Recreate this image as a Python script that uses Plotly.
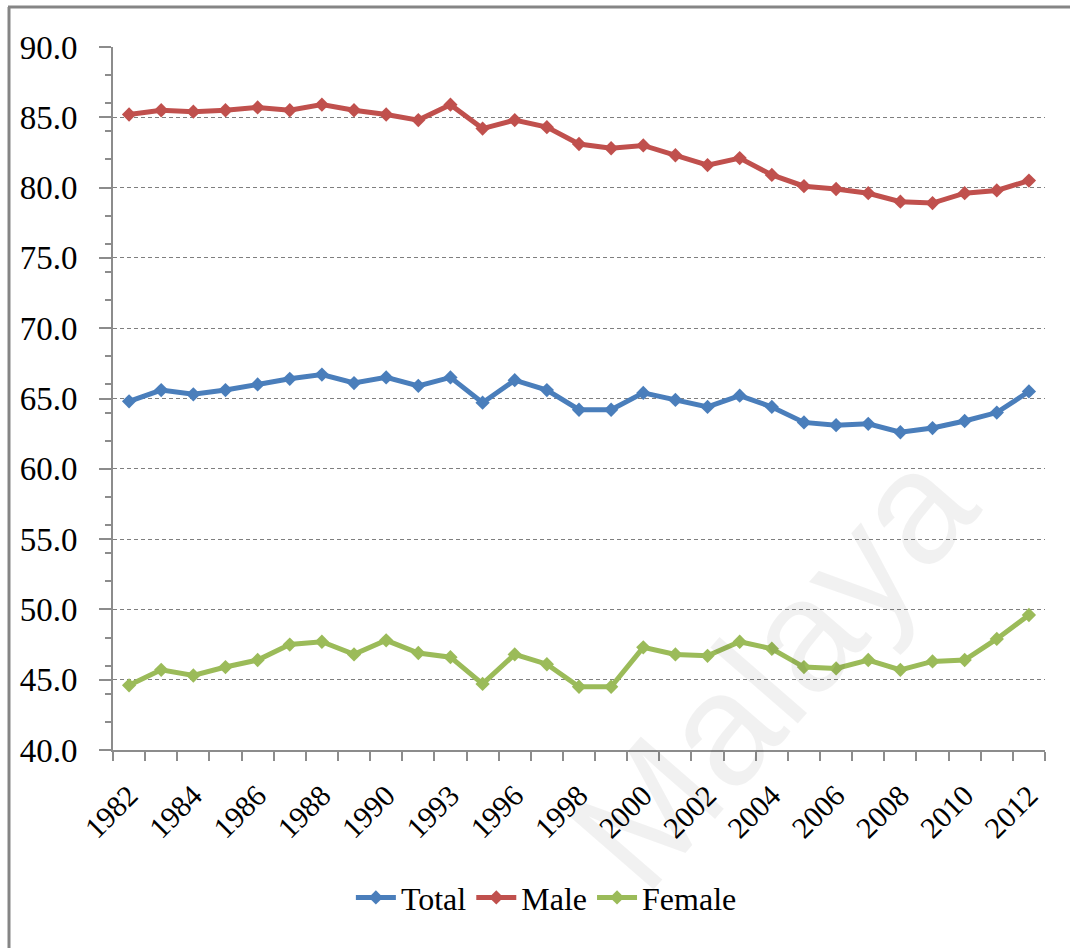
import plotly.graph_objects as go

# Survey years (1991 and 1994 are not in the series)
years = [1982, 1983, 1984, 1985, 1986, 1987, 1988, 1989, 1990, 1992, 1993,
         1995, 1996, 1997, 1998, 1999, 2000, 2001, 2002, 2003, 2004, 2005,
         2006, 2007, 2008, 2009, 2010, 2011, 2012]

total = [64.8, 65.6, 65.3, 65.6, 66.0, 66.4, 66.7, 66.1, 66.5, 65.9, 66.5,
         64.7, 66.3, 65.6, 64.2, 64.2, 65.4, 64.9, 64.4, 65.2, 64.4, 63.3,
         63.1, 63.2, 62.6, 62.9, 63.4, 64.0, 65.5]

male = [85.2, 85.5, 85.4, 85.5, 85.7, 85.5, 85.9, 85.5, 85.2, 84.8, 85.9,
        84.2, 84.8, 84.3, 83.1, 82.8, 83.0, 82.3, 81.6, 82.1, 80.9, 80.1,
        79.9, 79.6, 79.0, 78.9, 79.6, 79.8, 80.5]

female = [44.6, 45.7, 45.3, 45.9, 46.4, 47.5, 47.7, 46.8, 47.8, 46.9, 46.6,
          44.7, 46.8, 46.1, 44.5, 44.5, 47.3, 46.8, 46.7, 47.7, 47.2, 45.9,
          45.8, 46.4, 45.7, 46.3, 46.4, 47.9, 49.6]

series_names = ["Total", "Male", "Female"]
colors = ["#4a7ebb", "#c0504d", "#9bbb59"]

W, H = 1070, 948
ML, MR, MT, MB = 113, 25, 47, 198

idx = list(range(len(years)))

fig = go.Figure()
for name, vals, col in zip(series_names, [total, male, female], colors):
    fig.add_trace(go.Scatter(
        x=idx, y=vals, name=name, mode="lines+markers",
        line=dict(color=col, width=5),
        marker=dict(symbol="diamond", size=11, color=col),
    ))

axis_col = "#8c8c8c"
serif = "Liberation Serif, Times New Roman, serif"

fig.update_layout(
    width=W, height=H,
    margin=dict(l=ML, r=MR, t=MT, b=MB),
    paper_bgcolor="white", plot_bgcolor="white",
    font=dict(family=serif, color="black"),
    showlegend=True,
    legend=dict(orientation="h", x=0.465, xanchor="center", y=-0.21,
                yanchor="middle", font=dict(size=32, family=serif),
                itemwidth=40, tracegroupgap=0),
    xaxis=dict(
        range=[-0.5, len(years) - 0.5],
        tickmode="array",
        tickvals=idx[::2],
        ticktext=[str(y) for y in years[::2]],
        tickangle=-45,
        ticks="",
        ticklabelstandoff=14,
        tickfont=dict(size=30, family=serif),
        showgrid=False, zeroline=False,
        showline=True, linecolor=axis_col, linewidth=2,
        minor=dict(tick0=-0.5, dtick=1, ticks="outside", ticklen=9,
                   tickcolor=axis_col, tickwidth=1.5, showgrid=False),
    ),
    yaxis=dict(
        range=[40, 90],
        tickmode="linear", tick0=40, dtick=5,
        tickformat=".1f",
        ticks="outside", ticklen=12, tickcolor=axis_col, tickwidth=1.5,
        ticklabelstandoff=15,
        tickfont=dict(size=33, family=serif),
        showgrid=True, gridcolor="#7f7f7f", gridwidth=1, griddash="4px,3px",
        zeroline=False,
        showline=True, linecolor=axis_col, linewidth=2,
        minor=dict(tick0=40, dtick=2, ticks="outside", ticklen=6,
                   tickcolor=axis_col, tickwidth=1.5, showgrid=False),
    ),
)

# Frame lines along the top and left edges of the page
pw, ph = W - ML - MR, H - MT - MB
def px(x):
    return (x - ML) / pw
def py(y):
    return (H - MB - y) / ph

fig.add_shape(type="line", xref="paper", yref="paper",
              x0=px(8), x1=px(W), y0=py(7), y1=py(7),
              line=dict(color="#858585", width=3))
fig.add_shape(type="line", xref="paper", yref="paper",
              x0=px(9), x1=px(9), y0=py(7), y1=py(H),
              line=dict(color="#858585", width=3))

# Faint watermark
fig.add_annotation(text="Malaya", xref="paper", yref="paper",
                   x=px(772), y=py(668), xanchor="center", yanchor="middle",
                   showarrow=False, textangle=-49,
                   font=dict(size=160, family="Liberation Sans, Arial, sans-serif",
                             color="rgba(0,0,0,0.055)"))

fig.write_html("out.html")
